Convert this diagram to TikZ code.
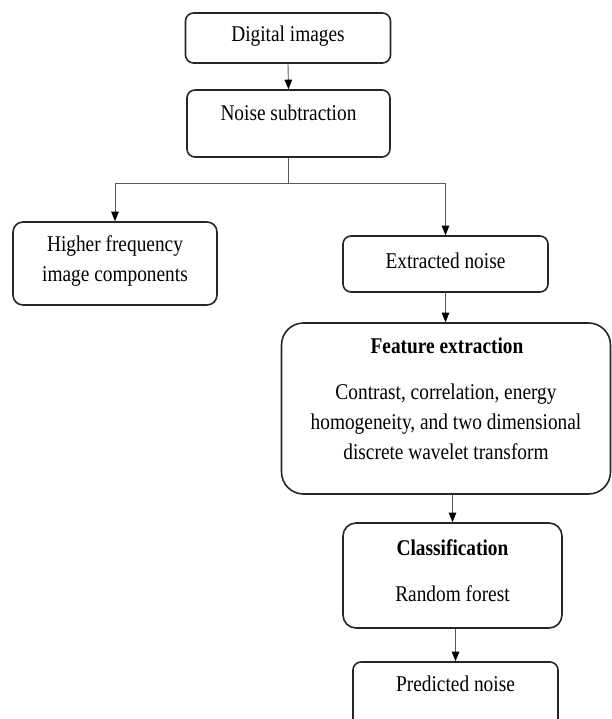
\documentclass[tikz,border=0pt]{standalone}
\usepackage{fontspec}
\setmainfont{Liberation Serif}[FakeStretch=0.86]
\usetikzlibrary{arrows.meta}
\begin{document}
\begin{tikzpicture}[x=1pt,y=-1pt,
  box/.style={draw=black!85,line width=1.6pt,rounded corners=#1,inner sep=0pt},
  box/.default=8pt,
  txt/.style={inner sep=0pt,align=center,font=\fontsize{22.5}{30}\selectfont},
  conn/.style={draw=black!65,line width=0.9pt},
  arr/.style={conn,-{Triangle[width=7.5pt,length=9.5pt,fill=black,color=black]}}]
\useasboundingbox (0,0) rectangle (612,719);
% boxes
\node[box,minimum width=205pt,minimum height=50pt] (d1) at (288,38) {};
\node[box,minimum width=203pt,minimum height=67pt] (d2) at (288.5,123.5) {};
\node[box=10pt,minimum width=204pt,minimum height=83pt] (d3) at (115,263.5) {};
\node[box,minimum width=205pt,minimum height=56pt] (d4) at (445.5,264) {};
\node[box=22pt,minimum width=329pt,minimum height=171pt] (d5) at (446,408.5) {};
\node[box=13pt,minimum width=219pt,minimum height=105pt] (d6) at (452.5,575.5) {};
\node[box,minimum width=205pt,minimum height=80pt] (d7) at (455.5,702) {};
% texts
\node[txt] (t1) at (288,36) {Digital images};
\node[txt] (t2) at (288.5,113) {Noise subtraction};
\node[txt] (t3) at (115,261) {Higher frequency\\image components};
\node[txt] (t4) at (445.5,261) {Extracted noise};
\node[txt] (t5a) at (447,346) {\bfseries Feature extraction};
\node[txt] (t5b) at (446,422) {Contrast, correlation, energy\\homogeneity, and two dimensional\\discrete wavelet transform};
\node[txt] (t6a) at (452.5,548) {\bfseries Classification};
\node[txt] (t6b) at (452.5,594) {Random forest};
\node[txt] (t7) at (455.5,684) {Predicted noise};
% connectors
\coordinate (j) at (288.5,183);
\draw[arr] (d1.south) -- (d2.north);
\draw[conn] (d2.south) -- (j);
\draw[arr] (j) -| (d3.north);
\draw[arr] (j) -| (d4.north);
\draw[arr] (d4.south) -- (d4.south |- d5.north);
\draw[arr] (d6.north |- d5.south) -- (d6.north);
\draw[arr] (d7.north |- d6.south) -- (d7.north);
\end{tikzpicture}
\end{document}
